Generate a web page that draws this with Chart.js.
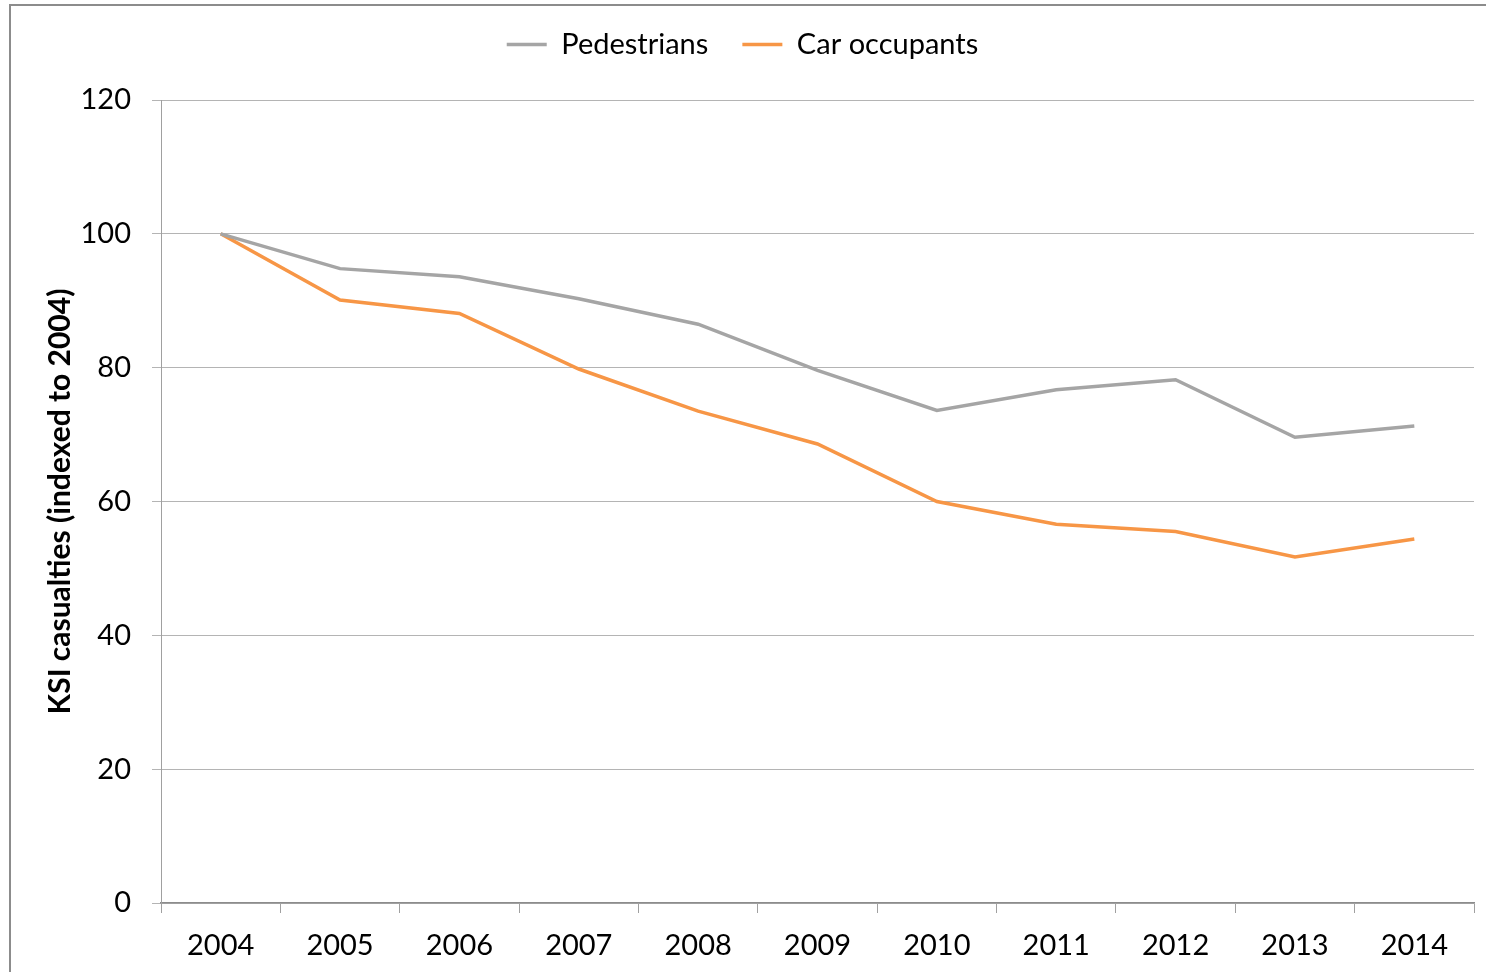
<!DOCTYPE html>
<html>
<head>
<meta charset="utf-8">
<script src="https://cdn.jsdelivr.net/npm/chart.js@4.4.1/dist/chart.umd.min.js"></script>
<style>
  html, body { margin: 0; padding: 0; background: #fff; }
  #frame {
    position: absolute; left: 9px; top: 4px;
    width: 1477px; height: 968px;
    border-top: 2px solid #8c8c8c; border-left: 2px solid #8c8c8c;
  }
  #chartBox { position: absolute; left: 0; top: 0; width: 1475px; height: 966px; }
</style>
</head>
<body>
<div id="frame">
  <div id="chartBox"><canvas id="ksiChart"></canvas></div>
</div>
<script>
// Chart data
const years = ['2004', '2005', '2006', '2007', '2008', '2009', '2010', '2011', '2012', '2013', '2014'];
const pedestrians = [100, 94.8, 93.6, 90.3, 86.5, 79.6, 73.6, 76.7, 78.2, 69.6, 71.3];
const carOccupants = [100, 90.1, 88.1, 79.8, 73.5, 68.6, 60.0, 56.6, 55.5, 51.7, 54.4];
const yTicks = [0, 20, 40, 60, 80, 100, 120];

// empty box under the legend, pushes the plot area down a bit
const legendGap = {
    id: 'legendGap',
    beforeInit: function(chart) {
        Chart.layouts.addBox(chart, {
            position: 'top',
            weight: 0,
            fullSize: true,
            options: {},
            left: 0, top: 0, right: 0, bottom: 0, width: 0, height: 0,
            isHorizontal: function() { return true; },
            update: function(maxWidth) {
                this.width = maxWidth;
                this.height = 31;
            },
            draw: function() {}
        });
    }
};

document.addEventListener('DOMContentLoaded', function() {
    initKsiChart();
});

function initKsiChart() {
    const ctx = document.getElementById('ksiChart').getContext('2d');
    const font = { family: 'Lato', size: 29 };

    new Chart(ctx, {
        type: 'line',
        data: {
            labels: years,
            datasets: [{
                label: 'Pedestrians',
                data: pedestrians,
                borderColor: '#a5a5a5',
                backgroundColor: '#a5a5a5',
                borderWidth: 3.5,
                pointRadius: 0,
                tension: 0
            }, {
                label: 'Car occupants',
                data: carOccupants,
                borderColor: '#f79646',
                backgroundColor: '#f79646',
                borderWidth: 3.5,
                pointRadius: 0,
                tension: 0
            }]
        },
        plugins: [legendGap],
        options: {
            responsive: true,
            maintainAspectRatio: false,
            animation: false,
            layout: {
                padding: { left: 0, right: 12, top: -10, bottom: 0 }
            },
            plugins: {
                legend: {
                    position: 'top',
                    labels: {
                        usePointStyle: true,
                        pointStyle: 'line',
                        pointStyleWidth: 40,
                        color: '#000',
                        font: font,
                        padding: 34
                    }
                },
                tooltip: { enabled: false },
                title: { display: false }
            },
            scales: {
                x: {
                    offset: true,
                    grid: {
                        offset: true,
                        drawOnChartArea: false,
                        tickLength: 10,
                        color: '#a0a0a0'
                    },
                    border: { color: '#8c8c8c', width: 1.5 },
                    ticks: { color: '#000', font: font, padding: 15, maxRotation: 0 },
                    afterFit: function(scale) { scale.height = 69; }
                },
                y: {
                    min: 0,
                    max: 120,
                    afterBuildTicks: function(scale) {
                        scale.ticks = yTicks.map(v => ({ value: v }));
                    },
                    grid: { color: '#b4b4b4', tickLength: 9, lineWidth: 1 },
                    border: { color: '#a0a0a0' },
                    ticks: { color: '#000', font: font, padding: 21 },
                    title: {
                        display: true,
                        text: 'KSI casualties (indexed to 2004)',
                        color: '#000',
                        font: { family: 'Lato', size: 30, weight: 'bold' },
                        padding: { top: 31, bottom: 0 }
                    },
                    afterFit: function(scale) { scale.width = 150; }
                }
            }
        }
    });
}
</script>
</body>
</html>
